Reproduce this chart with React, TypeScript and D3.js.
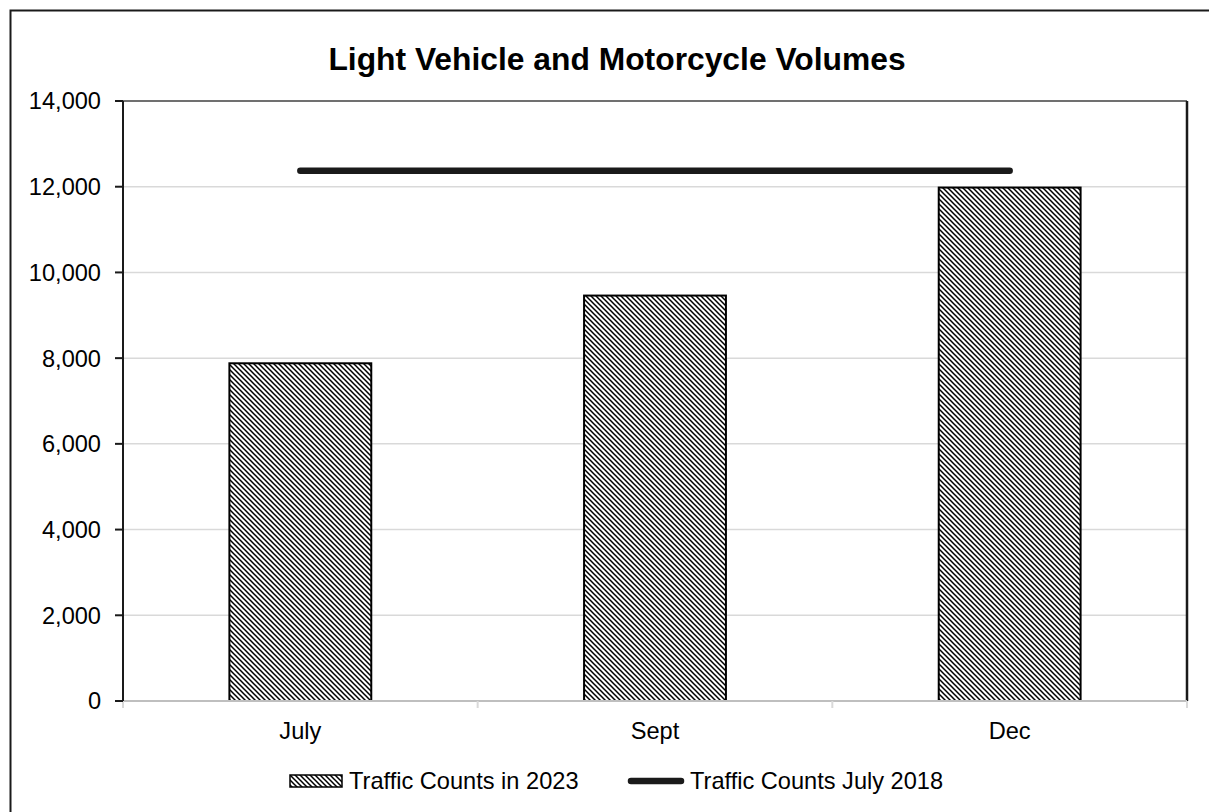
import React, { useEffect, useRef } from "react";
import * as d3 from "d3";

const categories = ["July", "Sept", "Dec"];
const counts2023 = [7880, 9460, 11980];
const counts2018 = [12370, 12370, 12370];
const yTicks = [0, 2000, 4000, 6000, 8000, 10000, 12000, 14000];
const title = "Light Vehicle and Motorcycle Volumes";
const seriesNames = ["Traffic Counts in 2023", "Traffic Counts July 2018"];

const W = 1209;
const H = 812;
const FONT = "'Liberation Sans', Arial, sans-serif";
const FS = 23.6;

export default function App() {
  const ref = useRef<SVGSVGElement | null>(null);

  useEffect(() => {
    document.body.style.margin = "0";
    const svg = d3.select(ref.current);
    svg.selectAll("*").remove();

    const left = 123, right = 1187, top = 101, bottom = 701;

    const defs = svg.append("defs");
    const P = 5;
    const pat = defs.append("pattern")
      .attr("id", "hatch")
      .attr("patternUnits", "userSpaceOnUse")
      .attr("width", P).attr("height", P);
    pat.append("rect").attr("width", P).attr("height", P).attr("fill", "#fff");
    pat.append("path")
      .attr("d", `M0,0 L${P},${P} M${-P / 2},${P / 2} L${P / 2},${P * 1.5} M${P / 2},${-P / 2} L${P * 1.5},${P / 2}`)
      .attr("stroke", "#000").attr("stroke-width", 1.5);

    svg.append("rect").attr("width", W).attr("height", H).attr("fill", "#fff");
    // outer frame (clipped at right/bottom)
    svg.append("rect")
      .attr("x", 10.5).attr("y", 10.5)
      .attr("width", W + 20).attr("height", H + 20)
      .attr("fill", "none").attr("stroke", "#1a1a1a").attr("stroke-width", 2);

    const x = d3.scaleBand<string>().domain(categories).range([left, right]).paddingInner(0).paddingOuter(0);
    const y = d3.scaleLinear().domain([0, 14000]).range([bottom, top]);

    // gridlines
    svg.append("g").selectAll("line").data(yTicks.filter(t => t > 0 && t < 14000)).join("line")
      .attr("x1", left).attr("x2", right)
      .attr("y1", d => y(d)).attr("y2", d => y(d))
      .attr("stroke", "#d9d9d9").attr("stroke-width", 1.5);

    // plot border top/right
    svg.append("line").attr("x1", left).attr("x2", right).attr("y1", top).attr("y2", top)
      .attr("stroke", "#404040").attr("stroke-width", 1.5);
    svg.append("line").attr("x1", right).attr("x2", right).attr("y1", top).attr("y2", bottom)
      .attr("stroke", "#1a1a1a").attr("stroke-width", 2.5);

    // bars
    const bw = x.bandwidth() * 0.4;
    svg.append("g").selectAll("rect").data(categories).join("rect")
      .attr("x", d => (x(d) as number) + x.bandwidth() / 2 - bw / 2)
      .attr("y", (d, i) => y(counts2023[i]))
      .attr("width", bw)
      .attr("height", (d, i) => bottom - y(counts2023[i]))
      .attr("fill", "url(#hatch)")
      .attr("stroke", "#000").attr("stroke-width", 2);

    // x axis
    svg.append("line").attr("x1", left).attr("x2", right).attr("y1", bottom).attr("y2", bottom)
      .attr("stroke", "#bfbfbf").attr("stroke-width", 2);
    const bounds = [...categories.map(c => x(c) as number), right];
    svg.append("g").selectAll("line").data(bounds).join("line")
      .attr("x1", d => d).attr("x2", d => d).attr("y1", bottom).attr("y2", bottom + 7)
      .attr("stroke", "#d9d9d9").attr("stroke-width", 2);
    svg.append("g").selectAll("text").data(categories).join("text")
      .attr("x", d => (x(d) as number) + x.bandwidth() / 2)
      .attr("y", 739)
      .attr("text-anchor", "middle")
      .attr("font-family", FONT).attr("font-size", FS).attr("fill", "#000")
      .text(d => d);

    // y axis
    svg.append("line").attr("x1", left).attr("x2", left).attr("y1", top).attr("y2", bottom)
      .attr("stroke", "#1a1a1a").attr("stroke-width", 2);
    svg.append("g").selectAll("line").data(yTicks).join("line")
      .attr("x1", left - 8).attr("x2", left).attr("y1", d => y(d)).attr("y2", d => y(d))
      .attr("stroke", "#1a1a1a").attr("stroke-width", 2);
    const fmt = d3.format(",");
    svg.append("g").selectAll("text").data(yTicks).join("text")
      .attr("x", 101).attr("y", d => y(d)).attr("dy", "0.36em")
      .attr("text-anchor", "end")
      .attr("font-family", FONT).attr("font-size", FS).attr("fill", "#000")
      .text(d => fmt(d));

    // line series
    const line = d3.line<number>()
      .x((d, i) => (x(categories[i]) as number) + x.bandwidth() / 2)
      .y(d => y(d));
    svg.append("path").datum(counts2018)
      .attr("d", line)
      .attr("fill", "none").attr("stroke", "#1a1a1a").attr("stroke-width", 6.5)
      .attr("stroke-linecap", "round");

    // title
    svg.append("text").attr("x", 617).attr("y", 70)
      .attr("text-anchor", "middle")
      .attr("font-family", FONT).attr("font-size", 31.8).attr("font-weight", "bold").attr("fill", "#000")
      .text(title);

    // legend
    const ly = 781;
    svg.append("rect").attr("x", 290).attr("y", ly - 6).attr("width", 52).attr("height", 12)
      .attr("fill", "url(#hatch)").attr("stroke", "#000").attr("stroke-width", 1.5);
    svg.append("text").attr("x", 349).attr("y", ly).attr("dy", "0.36em")
      .attr("font-family", FONT).attr("font-size", FS).attr("fill", "#000")
      .text(seriesNames[0]);
    svg.append("line").attr("x1", 631).attr("x2", 681).attr("y1", ly).attr("y2", ly)
      .attr("stroke", "#1a1a1a").attr("stroke-width", 6.5).attr("stroke-linecap", "round");
    svg.append("text").attr("x", 690).attr("y", ly).attr("dy", "0.36em")
      .attr("font-family", FONT).attr("font-size", FS).attr("fill", "#000")
      .text(seriesNames[1]);
  }, []);

  return (
    <svg ref={ref} width={W} height={H} style={{ display: "block", position: "absolute", left: 0, top: 0 }} />
  );
}
